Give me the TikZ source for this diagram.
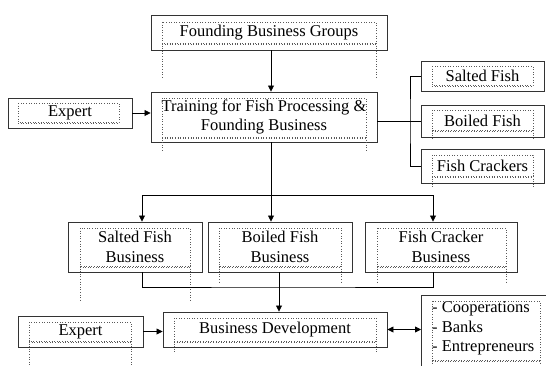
\documentclass[tikz,border=0pt]{standalone}
\usepackage{fontspec}
\setmainfont{Liberation Serif}
\usetikzlibrary{arrows.meta}
\newcommand{\txtframe}[5]{%
  \draw[frm] (#1,#2) rectangle (#3,#4);
  \draw[frm] (#1,#4+1.5) -- (#3,#4+1.5);
  \draw[frm] (#1,#4) -- (#1,#5);
  \draw[frm] (#3,#4) -- (#3,#5);}

\begin{document}
\begin{tikzpicture}[x=1pt,y=-1pt,
    box/.style={draw=black!80,line width=0.9pt,inner sep=0pt},
    frm/.style={dotted,gray!70!black,line width=0.6pt},
    lnk/.style={line width=0.75pt},
    arr/.style={lnk,-{Triangle[length=6pt,width=6pt]}},
    arrtwo/.style={lnk,{Triangle[length=6pt,width=6pt]}-{Triangle[length=6pt,width=6pt]}}]
\useasboundingbox (0,0) rectangle (546,365);
\tikzstyle{every node}=[font=\fontsize{16.5}{19.5}\selectfont]
\node[box,minimum width=236,minimum height=35] (fbg) at (269,32.5) {Founding Business Groups};
\node[box,minimum width=226,minimum height=50,align=center] (training) at (264,117) {Training for Fish Processing \&\\Founding Business};
\node[box,minimum width=124,minimum height=30] (expert1) at (70,113) {Expert};
\node[box,minimum width=123,minimum height=30] (salted) at (482.5,76) {Salted Fish};
\node[box,minimum width=123,minimum height=32] (boiled) at (482.5,121) {Boiled Fish};
\node[box,minimum width=123,minimum height=34] (crackers) at (482.5,166) {Fish Crackers};
\node[box,minimum width=134,minimum height=50,align=center] (sfb) at (135,247) {Salted Fish\\Business};
\node[box,minimum width=144,minimum height=50,align=center] (bfb) at (280,247) {Boiled Fish\\Business};
\node[box,minimum width=152,minimum height=50,align=center] (fcb) at (441,247) {Fish Cracker\\Business};
\node[box,minimum width=125,minimum height=31] (expert2) at (80.5,331.5) {Expert};
\node[box,minimum width=224,minimum height=35] (bd) at (275,329.5) {Business Development};
\node[box,minimum width=130,minimum height=80,anchor=north west] (coop) at (421,295) {};
\node[align=left,anchor=north west,inner sep=0pt] (cooptxt) at (432,301.5) {- Cooperations\\- Banks\\- Entrepreneurs};

\txtframe{162}{22}{376}{43}{78}
\txtframe{162}{98}{366}{137}{152}
\txtframe{18}{103}{119}{122}{122}
\txtframe{432}{66}{533}{85}{85}
\txtframe{432}{110}{533}{130}{140}
\txtframe{432}{155}{533}{176}{188}
\txtframe{80}{228}{190}{266}{300}
\txtframe{219}{228}{341}{266}{282}
\txtframe{377}{228}{506}{266}{283}
\txtframe{29}{322}{131}{341}{365}
\txtframe{174}{318}{376}{341}{352}
\txtframe{432}{301}{540}{360}{365}

\draw[arr] ([xshift=2pt]fbg.south) -- ([xshift=2pt]fbg.south |- training.north);
\draw[arr] (expert1.east) -- (expert1.east -| training.west);
\draw[lnk] (training.east |- boiled.west) -- (boiled.west);
\coordinate (brk) at (410,121);
\draw[lnk] (salted.west) -| (brk) |- (crackers.west);
\coordinate (sp) at (271,195);
\draw[lnk] (training.south -| sp) -- (sp);
\draw[arr] (sp) -| ([xshift=7pt]sfb.north);
\draw[arr] (sp) -| ([xshift=-8pt]fcb.north);
\draw[arr] (sp) -- (sp |- bfb.north);
\coordinate (jn) at (279,287);
\draw[lnk] ([xshift=7pt]sfb.south) |- (jn) -| ([xshift=-8pt]fcb.south);
\draw[arr] (bfb.south -| jn) -- (jn |- bd.north);
\draw[arr] (expert2.east) -- (expert2.east -| bd.west);
\draw[arrtwo] (bd.east) -- (bd.east -| coop.west);
\end{tikzpicture}
\end{document}
